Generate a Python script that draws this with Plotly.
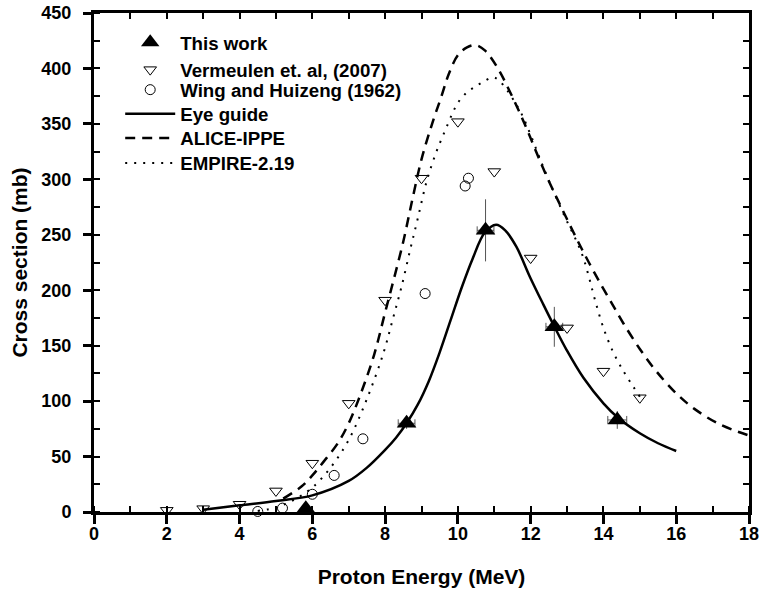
import plotly.graph_objects as go

# ---- data ----
# This work (filled triangles with error bars)
tw_x = [5.82, 8.59, 10.76, 12.65, 14.38]
tw_y = [3, 80, 254, 167, 83]
tw_yerr = [0, 5, 28, 18, 8]
tw_xerr = [0, 0.23, 0.23, 0.23, 0.26]

# Vermeulen et. al (2007) (open down-triangles)
vm_x = [2, 3, 4, 5, 6, 7, 8, 9, 10, 11, 12, 13, 14, 15]
vm_y = [1.5, 3, 7, 19, 44, 98, 191, 301, 352, 307, 229, 166, 127, 103]

# Wing and Huizenga (1962) (open circles)
wh_x = [4.5, 5.18, 6.0, 6.6, 7.39, 9.1, 10.2, 10.29]
wh_y = [0.5, 3.5, 16, 33, 66, 197, 294, 301]

# Eye guide (solid)
eg_x = [3, 4, 5, 6, 7, 7.5, 8.0, 8.3, 8.59, 8.9, 9.2, 9.5, 9.8, 10.1, 10.4,
        10.74, 11.05, 11.3, 11.61, 11.98, 12.35, 12.67, 12.99, 13.45, 14.0,
        14.4, 15.0, 15.5, 16.0]
eg_y = [2, 6, 10, 15, 28, 40, 56, 67, 80, 97, 118, 144, 173, 202, 228,
        252, 259, 254, 239, 212, 187, 166, 146, 121, 98,
        85, 71, 62, 55]

# ALICE-IPPE (dashed)
al_x = [5.2, 5.7, 6.0, 6.3, 6.7, 7.0, 7.3, 7.7, 8.0, 8.2, 8.5, 8.75, 9.0, 9.3,
        9.55, 9.75, 10.0, 10.25, 10.5, 10.75, 11.1, 11.4, 11.7, 11.95, 12.2,
        12.45, 12.75, 13.0, 13.3, 13.6, 13.95, 14.25, 14.55, 15.0, 15.45, 16.0,
        16.5, 17.2, 18.0]
al_y = [12, 23, 33, 45, 62, 80, 104, 142, 180, 205, 244, 282, 318, 351,
        375, 395, 412, 419, 421, 416, 400, 381, 360, 341, 321,
        302, 281, 264, 244, 225, 204, 187, 170, 147, 127, 107,
        93, 79, 69]

# EMPIRE-2.19 (dotted)
em_x = [4.5, 5.0, 5.5, 6.0, 6.5, 7.0, 7.5, 7.95, 8.22, 8.45, 8.7, 8.9, 9.14,
        9.4, 9.65, 9.87, 10.0, 10.2, 10.4, 10.65, 10.95, 11.1, 11.34, 11.52,
        11.75, 12.0, 12.25, 12.5, 12.75, 13.0, 13.25, 13.44, 13.6, 13.77, 14.0,
        14.27, 14.55, 14.82, 15.0]
em_y = [1, 4, 11, 22, 40, 65, 102, 143, 175, 203, 238, 265, 298,
        324, 344, 361, 369, 377, 382, 387, 392, 390, 381, 372,
        359, 340, 319, 299, 280, 262, 245, 230, 212, 191, 166,
        144, 127, 113, 104]

x_ticks = [0, 2, 4, 6, 8, 10, 12, 14, 16, 18]
y_ticks = [0, 50, 100, 150, 200, 250, 300, 350, 400, 450]

FONT = "Liberation Sans, Arial, sans-serif"

fig = go.Figure()

fig.add_trace(go.Scatter(
    x=tw_x, y=tw_y, mode="markers", name="This work", legend="legend",
    marker=dict(symbol="triangle-up", size=17, color="black"),
    error_y=dict(type="data", array=tw_yerr, color="#555555", thickness=1, width=0),
    error_x=dict(type="data", array=tw_xerr, color="#555555", thickness=1, width=4),
    cliponaxis=False,
))
fig.add_trace(go.Scatter(
    x=vm_x, y=vm_y, mode="markers", name="Vermeulen et. al, (2007)", legend="legend2",
    marker=dict(symbol="triangle-down-open", size=11, color="black",
                line=dict(width=1)),
    cliponaxis=False,
))
fig.add_trace(go.Scatter(
    x=wh_x, y=wh_y, mode="markers", name="Wing and Huizeng (1962)", legend="legend3",
    marker=dict(symbol="circle-open", size=10, color="black", line=dict(width=1)),
    cliponaxis=False,
))
fig.add_trace(go.Scatter(
    x=eg_x, y=eg_y, mode="lines", name="Eye guide", legend="legend4",
    line=dict(color="black", width=2.5, shape="spline", smoothing=1),
))
fig.add_trace(go.Scatter(
    x=al_x, y=al_y, mode="lines", name="ALICE-IPPE", legend="legend5",
    line=dict(color="black", width=2.5, dash="10px,7px", shape="spline", smoothing=1),
))
fig.add_trace(go.Scatter(
    x=em_x, y=em_y, mode="lines", name="EMPIRE-2.19", legend="legend6",
    line=dict(color="black", width=2, dash="2px,7px", shape="spline", smoothing=1),
))
# empty trace so the top / right frame axes get drawn
fig.add_trace(go.Scatter(x=[], y=[], xaxis="x2", yaxis="y2", showlegend=False,
                         hoverinfo="skip"))

axis_common = dict(
    showgrid=False, zeroline=False, showline=True, linecolor="black", linewidth=3,
    tickcolor="black", automargin=False, ticklabeloverflow="allow",
    tickfont=dict(family=FONT, size=18, color="black", weight="bold"),
)

legend_font = dict(family=FONT, size=18.7, color="black", weight="bold")
legend_rows = [0.9405, 0.8858, 0.8457, 0.7976, 0.7489, 0.6988]
legend_keys = ["legend", "legend2", "legend3", "legend4", "legend5", "legend6"]
legends = {}
for key, ypos in zip(legend_keys, legend_rows):
    legends[key] = dict(
        x=0.04, y=ypos, xanchor="left", yanchor="middle",
        bgcolor="rgba(0,0,0,0)", borderwidth=0, font=legend_font, itemwidth=50,
    )

fig.update_layout(
    width=763, height=591,
    margin=dict(l=94, r=14, t=13, b=79),
    paper_bgcolor="white", plot_bgcolor="white",
    font=dict(family=FONT, color="black"),
    showlegend=True,
    xaxis=dict(
        range=[0, 18], tickmode="array", tickvals=x_ticks,
        ticktext=[str(v) for v in x_ticks],
        ticks="outside", ticklen=9, tickwidth=2.5, ticklabelstandoff=-6,
        minor=dict(ticks="inside", dtick=1, tick0=0, ticklen=6, tickwidth=2, tickcolor="black"),
        title=dict(text="Proton Energy (MeV)", standoff=27,
                   font=dict(family=FONT, size=21, color="black", weight="bold")),
        **axis_common,
    ),
    yaxis=dict(
        range=[0, 450], tickmode="array", tickvals=y_ticks,
        ticktext=[str(v) for v in y_ticks],
        ticks="outside", ticklen=8, tickwidth=2.5, ticklabelstandoff=8,
        minor=dict(ticks="inside", dtick=25, tick0=0, ticklen=6, tickwidth=2, tickcolor="black"),
        title=dict(text="Cross section (mb)", standoff=9,
                   font=dict(family=FONT, size=21, color="black", weight="bold")),
        **axis_common,
    ),
    xaxis2=dict(
        overlaying="x", side="top", anchor="y2", range=[0, 18], dtick=1, tick0=0,
        ticks="inside", ticklen=6, tickwidth=2, showticklabels=False,
        **axis_common,
    ),
    yaxis2=dict(
        overlaying="y", side="right", anchor="x2", range=[0, 450], dtick=25, tick0=0,
        ticks="inside", ticklen=6, tickwidth=2, showticklabels=False,
        **axis_common,
    ),
    **legends,
)

# remove the default 8px page margin so the 763x591 figure fills the window
fig.write_html(
    "out.html",
    config={"displayModeBar": False},
    post_script="document.body.style.margin='0px';document.body.style.overflow='hidden';",
)
